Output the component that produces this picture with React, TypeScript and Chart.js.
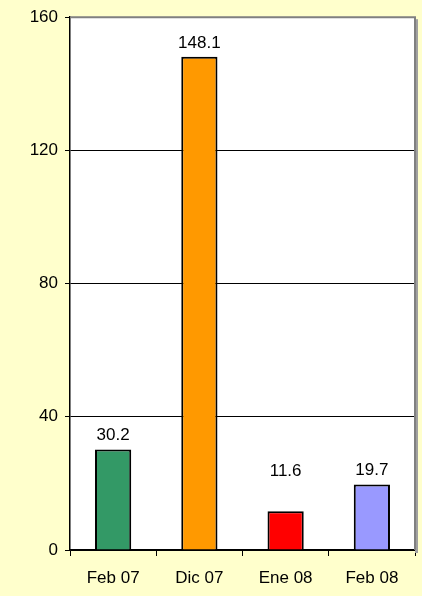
import React, { useEffect, useRef } from "react";
import { Chart, registerables } from "chart.js";

Chart.register(...registerables);

const categories = ["Feb 07", "Dic 07", "Ene 08", "Feb 08"];
const values = [30.2, 148.1, 11.6, 19.7];
const barColors = ["#339966", "#FF9900", "#FF0000", "#9999FF"];
const yTicks = [0, 40, 80, 120, 160];

const FONT = "'Liberation Sans', Arial, sans-serif";

const frame = {
  id: "frame",
  beforeDraw(chart: any) {
    const { ctx, chartArea: a } = chart;
    ctx.save();
    ctx.fillStyle = "#FFFFFF";
    ctx.fillRect(a.left, a.top, a.right - a.left, a.bottom - a.top);
    ctx.restore();
  },
  beforeDatasetsDraw(chart: any) {
    const { ctx, chartArea: a } = chart;
    ctx.save();
    ctx.fillStyle = "#A0A0A0";
    ctx.fillRect(a.right, a.top + 2, 3, a.bottom - a.top + 1);
    ctx.strokeStyle = "#808080";
    ctx.lineWidth = 2;
    ctx.beginPath();
    ctx.moveTo(a.left, a.top);
    ctx.lineTo(a.right, a.top);
    ctx.lineTo(a.right, a.bottom);
    ctx.stroke();
    ctx.restore();
  },
};

const labels = {
  id: "labels",
  afterDatasetsDraw(chart: any) {
    const { ctx } = chart;
    const meta = chart.getDatasetMeta(0);
    ctx.save();
    ctx.font = `17px ${FONT}`;
    ctx.fillStyle = "#000";
    ctx.textAlign = "center";
    ctx.textBaseline = "alphabetic";
    meta.data.forEach((bar: any, i: number) => {
      const y = Math.min(bar.y - 9, chart.chartArea.bottom - 74);
      ctx.fillText(values[i].toFixed(1), bar.x, y);
    });
    ctx.restore();
  },
};

export default function App() {
  const ref = useRef<HTMLCanvasElement>(null);
  useEffect(() => {
    document.body.style.margin = "0";
    const chart = new Chart(ref.current!, {
      type: "bar",
      data: {
        labels: categories,
        datasets: [
          {
            data: values,
            backgroundColor: barColors,
            borderColor: "#000",
            borderWidth: 2,
            barPercentage: 0.42,
            categoryPercentage: 1,
          },
        ],
      },
      options: {
        animation: false,
        responsive: false,
        maintainAspectRatio: false,
        layout: { padding: { top: 16, right: 7, left: 0, bottom: 0 } },
        plugins: { legend: { display: false }, tooltip: { enabled: false } },
        scales: {
          x: {
            grid: {
              offset: true,
              drawOnChartArea: false,
              color: "#000",
              tickLength: 6,
              lineWidth: 1,
            },
            border: { color: "#000", width: 1.5 },
            ticks: { color: "#000", font: { family: FONT, size: 17 }, padding: 12 },
            afterFit(scale: any) {
              scale.height = 46;
            },
          },
          y: {
            min: 0,
            max: 160,
            afterBuildTicks(scale: any) {
              scale.ticks = yTicks.map((v) => ({ value: v }));
            },
            grid: {
              color: (c: any) => (c.tick && c.tick.value === 160 ? "rgba(0,0,0,0)" : "#000"),
              tickColor: "#000",
              tickLength: 5,
              lineWidth: 1,
            },
            border: { color: "#000", width: 1.5 },
            ticks: { color: "#000", font: { family: FONT, size: 17 }, padding: 7 },
            afterFit(scale: any) {
              scale.width = 70;
            },
          },
        },
      },
      plugins: [frame, labels],
    });
    return () => chart.destroy();
  }, []);
  return (
    <div style={{ width: 422, height: 596, background: "#FFFFCC" }}>
      <canvas ref={ref} width={422} height={596} style={{ display: "block" }} />
    </div>
  );
}
